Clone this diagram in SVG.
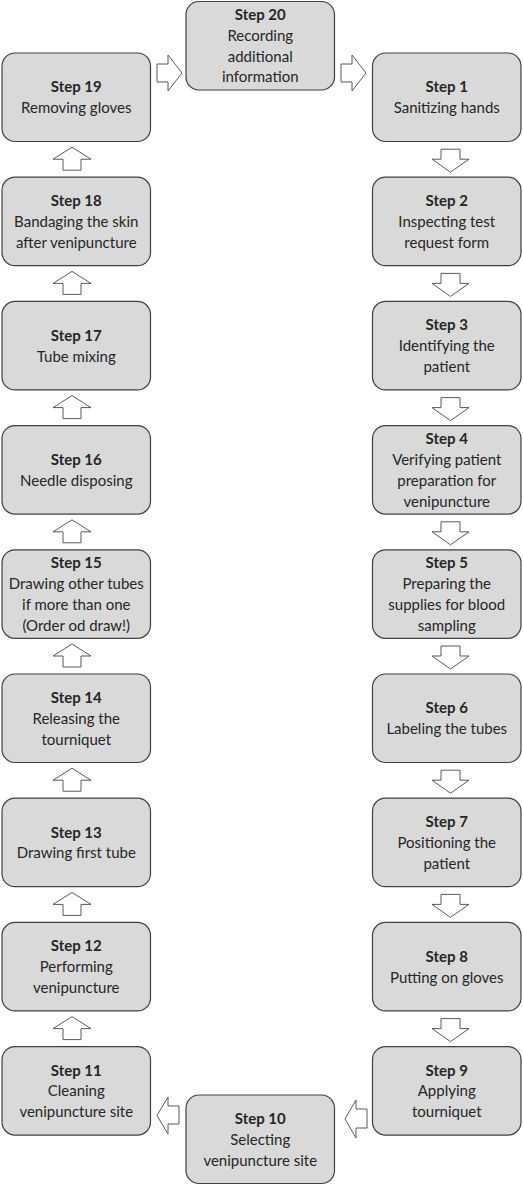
<svg xmlns="http://www.w3.org/2000/svg" width="523" height="1200" viewBox="0 0 523 1200">
<style>
.box{fill:#d9d9d9;stroke:#404040;stroke-width:1.2}
.arr{fill:#ffffff;stroke:#595959;stroke-width:1}
text{font-family:Lato,"Liberation Sans",sans-serif;font-size:15px;fill:#262626;text-anchor:middle}
.b{font-weight:bold}
</style>
<rect width="523" height="1200" fill="#ffffff"/>
<g id="connectors">
<path class="arr" d="M157,64 H168 V55 L182,73 L168,91 V82 H157 Z"/>
<path class="arr" d="M341,64 H352 V55 L366,73 L352,91 V82 H341 Z"/>
<path class="arr" d="M367,1109 H356 V1100 L345,1119 L356,1138 V1128 H367 Z"/>
<path class="arr" d="M179,1106 H168 V1097 L157,1115.5 L168,1134 V1124 H179 Z"/>
<path class="arr" d="M441,149.2 H460 V159.2 H469 L450.5,172.2 L432,159.2 H441 Z"/>
<path class="arr" d="M441,273.4 H460 V283.4 H469 L450.5,296.4 L432,283.4 H441 Z"/>
<path class="arr" d="M441,397.6 H460 V407.6 H469 L450.5,420.6 L432,407.6 H441 Z"/>
<path class="arr" d="M441,521.8 H460 V531.8 H469 L450.5,544.8 L432,531.8 H441 Z"/>
<path class="arr" d="M441,646 H460 V656 H469 L450.5,669 L432,656 H441 Z"/>
<path class="arr" d="M441,770.2 H460 V780.2 H469 L450.5,793.2 L432,780.2 H441 Z"/>
<path class="arr" d="M441,894.4 H460 V904.4 H469 L450.5,917.4 L432,904.4 H441 Z"/>
<path class="arr" d="M441,1018.6 H460 V1028.6 H469 L450.5,1041.6 L432,1028.6 H441 Z"/>
<path class="arr" d="M63,170.2 V159.2 H53 L72,147.2 L91,159.2 H81 V170.2 Z"/>
<path class="arr" d="M63,294.4 V283.4 H53 L72,271.4 L91,283.4 H81 V294.4 Z"/>
<path class="arr" d="M63,418.6 V407.6 H53 L72,395.6 L91,407.6 H81 V418.6 Z"/>
<path class="arr" d="M63,542.8 V531.8 H53 L72,519.8 L91,531.8 H81 V542.8 Z"/>
<path class="arr" d="M63,667 V656 H53 L72,644 L91,656 H81 V667 Z"/>
<path class="arr" d="M63,791.2 V780.2 H53 L72,768.2 L91,780.2 H81 V791.2 Z"/>
<path class="arr" d="M63,915.4 V904.4 H53 L72,892.4 L91,904.4 H81 V915.4 Z"/>
<path class="arr" d="M63,1039.6 V1028.6 H53 L72,1016.6 L91,1028.6 H81 V1039.6 Z"/>
</g>
<g id="step20"><rect class="box" x="186" y="1.5" width="148.5" height="88.5" rx="13"/><text x="260.25" y="20.05"><tspan class="b">Step 20</tspan><tspan x="260.25" dy="20.8">Recording</tspan><tspan x="260.25" dy="20.8">additional</tspan><tspan x="260.25" dy="20.8">information</tspan></text></g>
<g id="step19"><rect class="box" x="2" y="53" width="148.5" height="88.5" rx="13"/><text x="76.25" y="92.35"><tspan class="b">Step 19</tspan><tspan x="76.25" dy="20.8">Removing gloves</tspan></text></g>
<g id="step18"><rect class="box" x="2" y="177.2" width="148.5" height="88.5" rx="13"/><text x="76.25" y="206.15"><tspan class="b">Step 18</tspan><tspan x="76.25" dy="20.8">Bandaging the skin</tspan><tspan x="76.25" dy="20.8">after venipuncture</tspan></text></g>
<g id="step17"><rect class="box" x="2" y="301.4" width="148.5" height="88.5" rx="13"/><text x="76.25" y="340.75"><tspan class="b">Step 17</tspan><tspan x="76.25" dy="20.8">Tube mixing</tspan></text></g>
<g id="step16"><rect class="box" x="2" y="425.6" width="148.5" height="88.5" rx="13"/><text x="76.25" y="464.95"><tspan class="b">Step 16</tspan><tspan x="76.25" dy="20.8">Needle disposing</tspan></text></g>
<g id="step15"><rect class="box" x="2" y="549.8" width="148.5" height="88.5" rx="13"/><text x="76.25" y="568.35"><tspan class="b">Step 15</tspan><tspan x="76.25" dy="20.8">Drawing other tubes</tspan><tspan x="76.25" dy="20.8">if more than one</tspan><tspan x="76.25" dy="20.8">(Order od draw!)</tspan></text></g>
<g id="step14"><rect class="box" x="2" y="674" width="148.5" height="88.5" rx="13"/><text x="76.25" y="702.95"><tspan class="b">Step 14</tspan><tspan x="76.25" dy="20.8">Releasing the</tspan><tspan x="76.25" dy="20.8">tourniquet</tspan></text></g>
<g id="step13"><rect class="box" x="2" y="798.2" width="148.5" height="88.5" rx="13"/><text x="76.25" y="837.55"><tspan class="b">Step 13</tspan><tspan x="76.25" dy="20.8">Drawing first tube</tspan></text></g>
<g id="step12"><rect class="box" x="2" y="922.4" width="148.5" height="88.5" rx="13"/><text x="76.25" y="951.35"><tspan class="b">Step 12</tspan><tspan x="76.25" dy="20.8">Performing</tspan><tspan x="76.25" dy="20.8">venipuncture</tspan></text></g>
<g id="step11"><rect class="box" x="2" y="1046.6" width="148.5" height="88.5" rx="13"/><text x="76.25" y="1075.55"><tspan class="b">Step 11</tspan><tspan x="76.25" dy="20.8">Cleaning</tspan><tspan x="76.25" dy="20.8">venipuncture site</tspan></text></g>
<g id="step1"><rect class="box" x="372.5" y="53" width="148.5" height="88.5" rx="13"/><text x="446.75" y="92.35"><tspan class="b">Step 1</tspan><tspan x="446.75" dy="20.8">Sanitizing hands</tspan></text></g>
<g id="step2"><rect class="box" x="372.5" y="177.2" width="148.5" height="88.5" rx="13"/><text x="446.75" y="206.15"><tspan class="b">Step 2</tspan><tspan x="446.75" dy="20.8">Inspecting test</tspan><tspan x="446.75" dy="20.8">request form</tspan></text></g>
<g id="step3"><rect class="box" x="372.5" y="301.4" width="148.5" height="88.5" rx="13"/><text x="446.75" y="330.35"><tspan class="b">Step 3</tspan><tspan x="446.75" dy="20.8">Identifying the</tspan><tspan x="446.75" dy="20.8">patient</tspan></text></g>
<g id="step4"><rect class="box" x="372.5" y="425.6" width="148.5" height="88.5" rx="13"/><text x="446.75" y="444.15"><tspan class="b">Step 4</tspan><tspan x="446.75" dy="20.8">Verifying patient</tspan><tspan x="446.75" dy="20.8">preparation for</tspan><tspan x="446.75" dy="20.8">venipuncture</tspan></text></g>
<g id="step5"><rect class="box" x="372.5" y="549.8" width="148.5" height="88.5" rx="13"/><text x="446.75" y="568.35"><tspan class="b">Step 5</tspan><tspan x="446.75" dy="20.8">Preparing the</tspan><tspan x="446.75" dy="20.8">supplies for blood</tspan><tspan x="446.75" dy="20.8">sampling</tspan></text></g>
<g id="step6"><rect class="box" x="372.5" y="674" width="148.5" height="88.5" rx="13"/><text x="446.75" y="713.35"><tspan class="b">Step 6</tspan><tspan x="446.75" dy="20.8">Labeling the tubes</tspan></text></g>
<g id="step7"><rect class="box" x="372.5" y="798.2" width="148.5" height="88.5" rx="13"/><text x="446.75" y="827.15"><tspan class="b">Step 7</tspan><tspan x="446.75" dy="20.8">Positioning the</tspan><tspan x="446.75" dy="20.8">patient</tspan></text></g>
<g id="step8"><rect class="box" x="372.5" y="922.4" width="148.5" height="88.5" rx="13"/><text x="446.75" y="961.75"><tspan class="b">Step 8</tspan><tspan x="446.75" dy="20.8">Putting on gloves</tspan></text></g>
<g id="step9"><rect class="box" x="372.5" y="1046.6" width="148.5" height="88.5" rx="13"/><text x="446.75" y="1075.55"><tspan class="b">Step 9</tspan><tspan x="446.75" dy="20.8">Applying</tspan><tspan x="446.75" dy="20.8">tourniquet</tspan></text></g>
<g id="step10"><rect class="box" x="186" y="1095" width="148.5" height="88.5" rx="13"/><text x="260.25" y="1123.95"><tspan class="b">Step 10</tspan><tspan x="260.25" dy="20.8">Selecting</tspan><tspan x="260.25" dy="20.8">venipuncture site</tspan></text></g>
</svg>
